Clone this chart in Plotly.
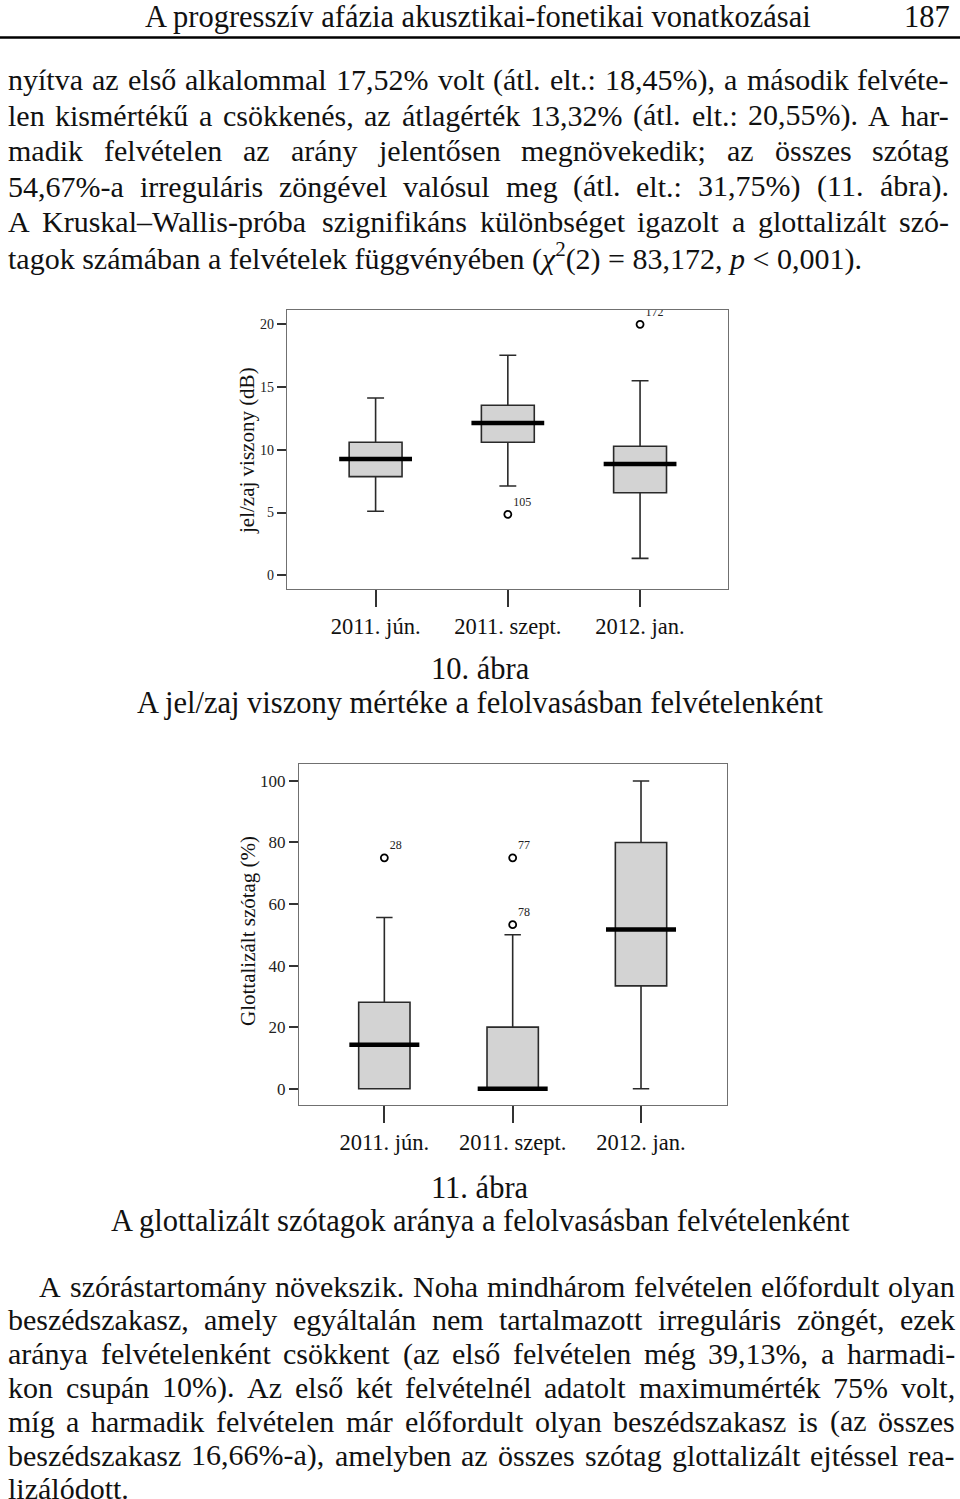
import unicodedata
import plotly.graph_objects as go

# ---------------- data ----------------
cats = ["2011. jún.", "2011. szept.", "2012. jan."]

snr_q1 = [7.86, 10.6, 6.58]
snr_median = [9.27, 12.14, 8.87]
snr_q3 = [10.6, 13.55, 10.28]
snr_low = [5.1, 7.12, 1.35]
snr_high = [14.13, 17.53, 15.5]
snr_out_cat = ["2011. szept.", "2012. jan."]
snr_out_val = [4.86, 20.0]
snr_out_id = ["105", "172"]

glot_q1 = [0, 0, 33.4]
glot_median = [14.3, 0, 51.7]
glot_q3 = [28.1, 20, 80]
glot_low = [0, 0, 0]
glot_high = [55.6, 50.0, 100]
glot_out_cat = ["2011. jún.", "2011. szept.", "2011. szept."]
glot_out_val = [75, 75, 53.3]
glot_out_id = ["28", "77", "78"]

snr_ticks = [0, 5, 10, 15, 20]
glot_ticks = [0, 20, 40, 60, 80, 100]

header_title = "A progresszív afázia akusztikai-fonetikai vonatkozásai"
page_no = "187"

para1 = [
    "nyítva az első alkalommal 17,52% volt (átl. elt.: 18,45%), a második felvéte-",
    "len kismértékű a csökkenés, az átlagérték 13,32% (átl. elt.: 20,55%). A har-",
    "madik felvételen az arány jelentősen megnövekedik; az összes szótag",
    "54,67%-a irreguláris zöngével valósul meg (átl. elt.: 31,75%) (11. ábra).",
    "A Kruskal–Wallis-próba szignifikáns különbséget igazolt a glottalizált szó-",
]
para1_last = "tagok számában a felvételek függvényében (<i>χ</i><sup>2</sup>(2) = 83,172, <i>p</i> < 0,001)."

para2 = [
    "A szórástartomány növekszik. Noha mindhárom felvételen előfordult olyan",
    "beszédszakasz, amely egyáltalán nem tartalmazott irreguláris zöngét, ezek",
    "aránya felvételenként csökkent (az első felvételen még 39,13%, a harmadi-",
    "kon csupán 10%). Az első két felvételnél adatolt maximumérték 75% volt,",
    "míg a harmadik felvételen már előfordult olyan beszédszakasz is (az összes",
    "beszédszakasz 16,66%-a), amelyben az összes szótag glottalizált ejtéssel rea-",
]
para2_last = "lizálódott."

fig1_num = "10. ábra"
fig1_cap = "A jel/zaj viszony mértéke a felolvasásban felvételenként"
fig2_num = "11. ábra"
fig2_cap = "A glottalizált szótagok aránya a felolvasásban felvételenként"
snr_title = "jel/zaj viszony (dB)"
glot_title = "Glottalizált szótag (%)"

# ---------------- helpers ----------------
W_PX, H_PX = 960, 1499
SERIF = "Liberation Serif, Times New Roman, serif"

AFM = {
    " ": 250, "%": 833, "(": 333, ")": 333, ",": 250, "-": 333, ".": 250, "/": 278,
    ":": 278, ";": 278, "<": 564, "=": 564, "–": 500,
    "A": 722, "B": 667, "C": 667, "D": 722, "E": 611, "F": 556, "G": 722, "H": 722,
    "I": 333, "J": 389, "K": 722, "L": 611, "M": 889, "N": 722, "O": 722, "P": 556,
    "Q": 722, "R": 667, "S": 556, "T": 611, "U": 722, "V": 722, "W": 944, "X": 722,
    "Y": 722, "Z": 611,
    "a": 444, "b": 500, "c": 444, "d": 500, "e": 444, "f": 333, "g": 500, "h": 500,
    "i": 278, "j": 278, "k": 500, "l": 278, "m": 778, "n": 500, "o": 500, "p": 500,
    "q": 500, "r": 333, "s": 389, "t": 278, "u": 500, "v": 500, "w": 722, "x": 500,
    "y": 500, "z": 444,
}
for d in "0123456789":
    AFM[d] = 500


def cw(ch):
    base = unicodedata.normalize("NFD", ch)[0]
    return AFM.get(base, 500)


def tw(s, size):
    return sum(cw(c) for c in s) * size / 1000.0


def px(x):
    return x / W_PX


def py(y):
    return 1 - y / H_PX


annotations = []


def add_text(text, x, y, size, xanchor="left", **kw):
    annotations.append(dict(
        text=text, x=px(x), y=py(y), xref="paper", yref="paper",
        xanchor=xanchor, yanchor="middle", showarrow=False, borderpad=0,
        font=dict(family=SERIF, size=size, color="#111"), **kw))


def justify(line, left, right, y, size):
    words = line.split(" ")
    widths = [tw(w, size) for w in words]
    gap = (right - left - sum(widths)) / (len(words) - 1)
    gap = max(gap, 0.18 * size)
    x = left
    for w, wd in zip(words, widths):
        add_text(w, x, y, size)
        x += wd + gap


BODY = 30
HEAD = 30.5

# header
add_text(header_title, 812, 17, HEAD, xanchor="right")
add_text(page_no, 951, 17, HEAD, xanchor="right")

# paragraph 1
p1_y = [80, 115.3, 150.6, 186, 221.3]
for line, y in zip(para1, p1_y):
    justify(line, 7, 948, y, BODY)
add_text(para1_last, 7, 256, BODY)

# paragraph 2
p2_y = [1286, 1319.8, 1353.6, 1387.4, 1421.2, 1455]
for i, (line, y) in enumerate(zip(para2, p2_y)):
    justify(line, 38 if i == 0 else 7, 954, y, BODY)
add_text(para2_last, 7, 1488.8, BODY)

# captions
add_text(fig1_num, 480, 669, HEAD, xanchor="center")
add_text(fig1_cap, 480, 703, HEAD, xanchor="center")
add_text(fig2_num, 480, 1188, HEAD, xanchor="center")
add_text(fig2_cap, 480, 1221, HEAD, xanchor="center")

# axis titles
add_text(snr_title, 247, 450, 21, xanchor="center", textangle=-90)
add_text(glot_title, 248, 931, 21, xanchor="center", textangle=-90)

# ---------------- figure ----------------
fig = go.Figure()

BOX_FILL = "#d3d3d3"
BOX_LINE = "#2a2a2a"


def add_boxes(xa, ya, q1, med, q3, lo, hi, out_cat, out_val, out_id, med_px):
    fig.add_trace(go.Box(
        x=cats, q1=q1, median=med, q3=q3, lowerfence=lo, upperfence=hi,
        xaxis=xa, yaxis=ya, width=0.4, whiskerwidth=0.32,
        fillcolor=BOX_FILL, line=dict(color=BOX_LINE, width=1.6),
        boxpoints=False, showlegend=False, hoverinfo="skip"))
    fig.add_trace(go.Scatter(
        x=cats, y=med, xaxis=xa, yaxis=ya, mode="markers",
        marker=dict(symbol="line-ew", size=med_px, line=dict(color="black", width=4.5)),
        showlegend=False, hoverinfo="skip"))
    fig.add_trace(go.Scatter(
        x=out_cat, y=out_val, xaxis=xa, yaxis=ya, mode="markers+text",
        text=out_id, textposition="top right",
        textfont=dict(family=SERIF, size=12, color="#222"),
        marker=dict(symbol="circle-open", size=7, color="black", line=dict(color="black", width=1.8)),
        showlegend=False, hoverinfo="skip"))


add_boxes("x", "y", snr_q1, snr_median, snr_q3, snr_low, snr_high,
          snr_out_cat, snr_out_val, snr_out_id, 52)
add_boxes("x2", "y2", glot_q1, glot_median, glot_q3, glot_low, glot_high,
          glot_out_cat, glot_out_val, glot_out_id, 50)

FRAME = "#707070"
common_x = dict(type="category", categoryorder="array", categoryarray=cats,
                showline=True, mirror=True, linecolor=FRAME, linewidth=1.2,
                ticks="outside", ticklen=17, tickwidth=1.8, tickcolor="#333",
                tickfont=dict(family=SERIF, size=22.5, color="#111"),
                showgrid=False, zeroline=False, fixedrange=True)
common_y = dict(showline=True, mirror=True, linecolor=FRAME, linewidth=1.2,
                ticks="outside", ticklen=9, tickwidth=1.5, tickcolor="#333",
                showgrid=False, zeroline=False, fixedrange=True)

fig.update_layout(
    width=W_PX, height=H_PX,
    margin=dict(l=0, r=0, t=0, b=0),
    paper_bgcolor="white", plot_bgcolor="white",
    xaxis=dict(domain=[px(287), px(728)], range=[-0.67, 2.665], anchor="y", **common_x),
    yaxis=dict(domain=[py(589), py(310)], range=[-1.09, 21.14], anchor="x",
               tickvals=snr_ticks, tickfont=dict(family=SERIF, size=14, color="#222"),
               **common_y),
    xaxis2=dict(domain=[px(299), px(727)], range=[-0.665, 2.67], anchor="y2", **common_x),
    yaxis2=dict(domain=[py(1105), py(764)], range=[-5.3, 105.5], anchor="x2",
                tickvals=glot_ticks, tickfont=dict(family=SERIF, size=17, color="#222"),
                **common_y),
    annotations=annotations,
    shapes=[dict(type="line", xref="paper", yref="paper", x0=0, x1=1,
                 y0=py(37.5), y1=py(37.5), line=dict(color="black", width=2.5))],
)

fig.write_html("out.html", config={"displayModeBar": False},
               post_script="document.body.style.margin='0px';")
